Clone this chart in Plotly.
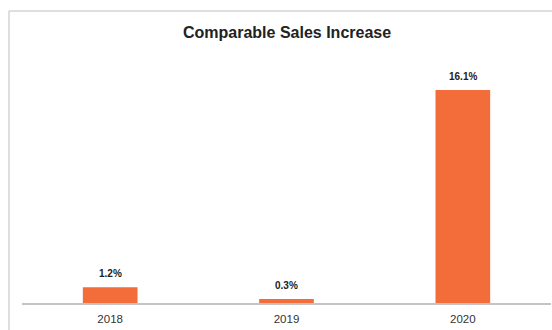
import plotly.graph_objects as go

years = ["2018", "2019", "2020"]
increase = [1.2, 0.3, 16.1]
labels = ["1.2%", "0.3%", "16.1%"]

fig = go.Figure()
fig.add_trace(go.Bar(x=years, y=increase, marker_color="#F26D3A", marker_line_width=0,
                     hoverinfo="skip"))

# category axis: annotations positioned by category index
for i, (y, t) in enumerate(zip(increase, labels)):
    fig.add_annotation(x=i, y=y, text="<b>%s</b>" % t, showarrow=False,
                       yanchor="bottom", yshift=6,
                       font=dict(size=10, color="#222222", family="Liberation Sans, Arial, sans-serif"))

# frame lines (top and left)
fig.add_shape(type="line", xref="paper", yref="paper", x0=-0.0246, x1=1.05, y0=1.2016, y1=1.2016,
              line=dict(color="#d4d4d4", width=1.5))
fig.add_shape(type="line", xref="paper", yref="paper", x0=-0.0246, x1=-0.0246, y0=-0.2, y1=1.2016,
              line=dict(color="#d4d4d4", width=1.5))

fig.update_layout(
    width=552, height=330,
    margin=dict(l=22, r=1, t=60, b=27),
    paper_bgcolor="white", plot_bgcolor="white",
    bargap=0.69,
    showlegend=False,
    title=dict(text="<b>Comparable Sales Increase</b>", x=0.52, xanchor="center",
               y=1 - 32 / 330, yanchor="middle",
               font=dict(size=16, color="#222222", family="Liberation Sans, Arial, sans-serif")),
    xaxis=dict(type="category", range=[-0.5, 2.5], showline=True, linecolor="#c4c4c4",
               linewidth=1.5, ticks="", showgrid=False, ticklabelstandoff=4,
               tickfont=dict(size=11.5, color="#333333", family="Liberation Sans, Arial, sans-serif")),
    yaxis=dict(range=[0, 18.37], visible=False, showgrid=False, zeroline=False),
)

fig.write_html("out.html")
